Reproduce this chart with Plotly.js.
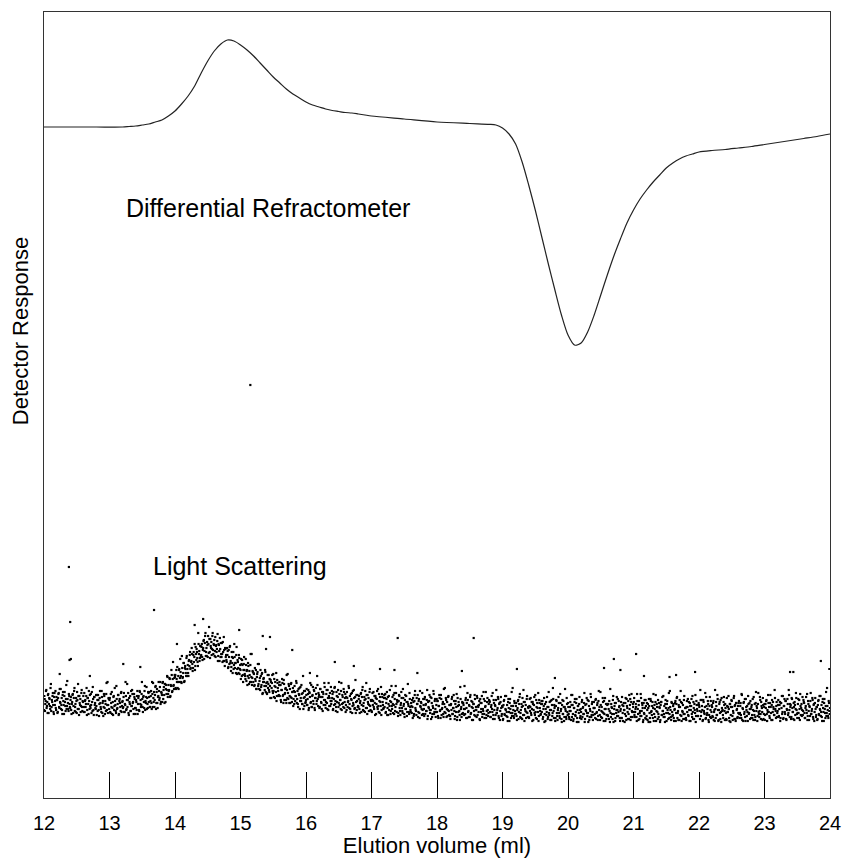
<!DOCTYPE html>
<html>
<head>
<meta charset="utf-8">
<script src="https://cdn.plot.ly/plotly-3.0.1.min.js"></script>
<style>
  html, body { margin: 0; padding: 0; background: #fff; }
  #chart { width: 844px; height: 858px; }
</style>
</head>
<body>
<div id="chart"></div>
<script>
// Differential refractometer trace (elution volume in ml, response in arbitrary units)
const drVolume = [12.0, 12.4, 12.8, 13.2, 13.3, 13.4, 13.5, 13.6, 13.7, 13.8, 13.9, 14.0, 14.1, 14.2, 14.3, 14.4,
  14.5, 14.6, 14.7, 14.8, 14.9, 15.0, 15.1, 15.2, 15.3, 15.4, 15.5, 15.6, 15.7, 15.8, 15.9, 16.0, 16.1, 16.2,
  16.3, 16.4, 16.5, 16.6, 16.7, 16.8, 16.9, 17.0, 17.5, 18.0, 18.5, 18.8, 18.9, 19.0, 19.1, 19.2, 19.3, 19.4,
  19.5, 19.6, 19.7, 19.8, 19.9, 20.0, 20.1, 20.2, 20.3, 20.4, 20.5, 20.6, 20.7, 20.8, 20.9, 21.0, 21.1, 21.2,
  21.3, 21.4, 21.5, 21.6, 21.7, 21.8, 21.9, 22.0, 22.2, 22.4, 22.6, 22.8, 23.0, 23.2, 23.4, 23.6, 23.8, 24.0];
const drResponse = [671, 671, 671, 671, 671.5, 672, 673, 674, 676, 678, 682, 687, 694, 702, 712, 725,
  737, 747, 754, 758, 757, 753, 748, 742, 735, 728, 721, 715, 709, 704, 700, 696, 693, 691,
  689, 687.5, 686.5, 685.5, 685, 684, 683, 682, 679, 676, 674.5, 673.7, 673, 670, 664, 654, 636, 613,
  588, 561, 534, 508, 483, 463, 453, 455, 466, 483, 503, 523, 542, 559, 575, 588, 599, 608,
  616, 623, 630, 635, 639, 642, 644, 646, 647.5, 648.5, 650, 651.5, 653.5, 655.5, 657.5, 659.5, 661.5, 664];

// Light scattering detector, even readings: every 0.01 ml from 12.00 to 24.00 ml
const lsStart = 12.0;
const lsStep = 0.01;
const lsResponse = [
  88, 99, 94, 107, 90, 96, 103, 85, 100, 92, 110, 87, 98, 102, 93, 84, 105, 97, 90, 101,
  98, 86, 104, 91, 109, 95, 89, 100, 84, 106, 93, 102, 96, 87, 113, 92, 99, 89, 104, 94,
  90, 101, 84, 96, 104, 92, 107, 87, 94, 100, 85, 98, 114, 89, 102, 93, 86, 105, 91, 97,
  102, 91, 86, 98, 94, 110, 88, 100, 84, 97, 103, 90, 93, 106, 87, 99, 83, 101, 95, 89,
  92, 103, 87, 98, 82, 100, 95, 89, 107, 85, 97, 91, 102, 84, 94, 104, 88, 116, 93, 99,
  98, 86, 104, 91, 84, 96, 101, 88, 110, 93, 85, 99, 90, 103, 83, 97, 95, 87, 106, 92,
  97, 91, 105, 86, 93, 102, 89, 114, 98, 85, 100, 94, 87, 107, 92, 104, 96, 84, 101, 90,
  90, 96, 102, 84, 100, 88, 107, 94, 91, 104, 99, 86, 102, 90, 112, 97, 101, 89, 94, 106,
  96, 106, 91, 102, 95, 116, 91, 100, 106, 98, 111, 89, 106, 95, 101, 116, 98, 111, 94, 106,
  103, 115, 99, 111, 95, 114, 109, 104, 122, 101, 113, 108, 119, 102, 112, 123, 107, 136, 113, 120,
  121, 110, 128, 116, 110, 122, 128, 116, 139, 122, 115, 130, 121, 135, 116, 130, 129, 122, 142, 129,
  125, 137, 132, 146, 130, 137, 144, 127, 143, 136, 154, 132, 144, 149, 140, 132, 154, 147, 140, 152,
  143, 154, 138, 150, 158, 147, 162, 142, 150, 156, 141, 154, 171, 146, 159, 150, 143, 162, 148, 154,
  158, 147, 141, 153, 149, 164, 142, 153, 137, 149, 155, 141, 144, 156, 137, 148, 132, 149, 143, 136,
  143, 130, 148, 134, 152, 137, 131, 141, 125, 146, 133, 141, 135, 125, 151, 129, 136, 125, 140, 129,
  128, 139, 122, 133, 116, 134, 128, 122, 139, 117, 128, 122, 132, 114, 123, 133, 116, 144, 120, 126,
  125, 112, 130, 117, 109, 121, 126, 112, 134, 117, 108, 122, 113, 125, 105, 119, 116, 108, 126, 112,
  105, 116, 110, 123, 106, 112, 118, 100, 115, 107, 124, 101, 112, 116, 106, 97, 118, 110, 102, 113,
  102, 113, 96, 108, 115, 103, 118, 98, 105, 110, 95, 108, 124, 99, 112, 102, 95, 114, 100, 106,
  110, 99, 94, 106, 102, 117, 95, 107, 91, 104, 110, 97, 100, 113, 94, 105, 89, 107, 101, 95,
  98, 109, 93, 104, 88, 106, 101, 95, 113, 91, 103, 97, 108, 90, 100, 110, 94, 122, 99, 105,
  103, 91, 109, 96, 89, 101, 106, 93, 115, 98, 90, 104, 95, 108, 88, 102, 100, 92, 111, 97,
  100, 88, 106, 93, 111, 97, 91, 102, 86, 108, 95, 104, 98, 89, 115, 94, 101, 91, 106, 96,
  104, 93, 88, 100, 96, 112, 90, 102, 86, 99, 105, 92, 95, 108, 89, 101, 85, 103, 97, 91,
  91, 102, 85, 97, 105, 93, 108, 88, 95, 101, 86, 99, 115, 90, 103, 94, 87, 106, 92, 98,
  87, 98, 93, 106, 89, 95, 102, 84, 99, 91, 109, 86, 97, 101, 92, 83, 104, 96, 89, 100,
  91, 104, 86, 99, 83, 101, 94, 88, 108, 84, 96, 92, 101, 85, 93, 105, 87, 112, 94, 98,
  97, 85, 103, 90, 83, 95, 100, 87, 109, 92, 84, 98, 89, 102, 82, 96, 94, 86, 105, 91,
  86, 92, 98, 80, 96, 84, 103, 90, 87, 100, 94, 81, 97, 85, 107, 91, 95, 83, 88, 99,
  89, 99, 84, 94, 87, 108, 82, 91, 97, 88, 101, 79, 95, 84, 90, 104, 86, 99, 81, 93,
  86, 97, 80, 92, 100, 88, 103, 83, 90, 96, 81, 94, 110, 85, 98, 89, 82, 101, 87, 93,
  82, 93, 88, 101, 84, 90, 97, 79, 94, 86, 104, 81, 92, 96, 87, 78, 99, 91, 84, 95,
  95, 89, 112, 84, 100, 90, 80, 98, 87, 93, 81, 103, 85, 91, 96, 78, 94, 83, 99, 88,
  88, 102, 83, 91, 93, 79, 99, 86, 95, 81, 89, 106, 84, 97, 92, 80, 87, 100, 82, 94,
  97, 86, 81, 93, 89, 105, 83, 95, 79, 92, 98, 85, 88, 101, 82, 94, 78, 96, 90, 84,
  91, 79, 97, 84, 102, 88, 82, 93, 77, 99, 86, 95, 89, 80, 106, 85, 92, 82, 97, 87,
  84, 95, 78, 90, 98, 86, 101, 81, 88, 94, 79, 92, 108, 83, 96, 87, 80, 99, 85, 91,
  81, 92, 87, 100, 83, 89, 96, 78, 93, 85, 103, 80, 91, 95, 86, 77, 98, 90, 83, 94,
  86, 97, 81, 92, 76, 94, 89, 83, 101, 79, 91, 85, 96, 78, 88, 98, 82, 110, 87, 93,
  92, 80, 98, 85, 78, 90, 95, 82, 104, 87, 79, 93, 84, 97, 77, 91, 89, 81, 100, 86,
  95, 84, 79, 91, 87, 103, 81, 93, 77, 90, 96, 83, 86, 99, 80, 92, 76, 94, 88, 82,
  86, 96, 81, 91, 84, 105, 79, 88, 94, 85, 98, 76, 92, 81, 87, 101, 83, 96, 78, 90,
  90, 84, 98, 79, 86, 95, 82, 107, 91, 78, 93, 87, 80, 100, 85, 97, 89, 77, 94, 83,
  93, 82, 89, 97, 76, 85, 94, 90, 79, 102, 84, 92, 77, 95, 88, 82, 99, 86, 91, 80,
  87, 96, 80, 93, 77, 95, 88, 84, 100, 78, 92, 86, 97, 79, 89, 99, 81, 104, 86, 94,
  86, 100, 81, 89, 91, 77, 97, 84, 93, 79, 87, 104, 82, 95, 90, 78, 85, 98, 80, 92,
  82, 88, 94, 76, 92, 80, 99, 86, 83, 96, 90, 77, 93, 81, 103, 87, 91, 79, 84, 95,
  90, 78, 96, 83, 101, 87, 81, 92, 76, 98, 85, 94, 88, 79, 105, 84, 91, 81, 96, 86,
  83, 94, 77, 89, 97, 85, 100, 80, 87, 93, 78, 91, 107, 82, 95, 86, 79, 98, 84, 90,
  80, 91, 86, 99, 82, 88, 95, 77, 92, 84, 102, 79, 90, 94, 85, 76, 97, 89, 82, 93,
  93, 87, 108, 82, 98, 88, 78, 96, 85, 91, 79, 101, 83, 89, 94, 76, 92, 81, 97, 86,
  91, 81, 97, 86, 77, 89, 96, 83, 103, 88, 78, 94, 85, 98, 76, 90, 88, 80, 101, 87,
  94, 85, 78, 92, 86, 102, 80, 94, 76, 91, 97, 82, 87, 100, 79, 93, 77, 95, 89, 81,
  85, 97, 80, 92, 83, 104, 78, 89, 95, 84, 99, 77, 91, 82, 86, 102, 84, 95, 79, 89,
  91, 83, 99, 78, 87, 94, 81, 106, 92, 77, 94, 86, 81, 101, 84, 96, 90, 78, 93, 84,
  94, 83, 90, 98, 77, 86, 95, 91, 80, 103, 85, 93, 78, 96, 89, 83, 100, 87, 92, 81,
  87, 98, 82, 93, 77, 95, 90, 84, 102, 80, 92, 86, 97, 79, 89, 99, 83, 108, 88, 94,
  93, 81, 99, 86, 79, 91, 96, 83, 105, 88, 80, 94, 85, 98, 78, 92, 90, 82, 101, 87,
  96, 85, 80, 92, 88, 104, 82, 94, 78, 91, 97, 84, 87, 100, 81, 93, 77, 95, 89, 83,
  91, 79, 97, 84, 102, 88, 82, 93, 77, 99, 86, 95, 89, 80, 106, 85, 92, 82, 97, 87,
  90
];

// Light scattering detector, odd readings: every 0.01 ml from 12.005 to 23.995 ml
const lsOddStart = 12.005;
const lsOddResponse = [
  102, 87, 97, 108, 92, 85, 104, 94, 99, 89, 114, 91, 96, 105, 86, 101, 93, 107, 88, 98,
  85, 100, 105, 90, 96, 109, 93, 88, 103, 97, 84, 106, 92, 99, 89, 117, 95, 87, 102, 91,
  98, 88, 94, 103, 85, 100, 110, 91, 86, 97, 106, 89, 102, 83, 95, 99, 92, 108, 87, 96,
  86, 105, 97, 91, 102, 83, 100, 94, 107, 89, 92, 104, 85, 96, 111, 88, 101, 93, 90, 103,
  83, 98, 103, 88, 94, 107, 91, 86, 101, 95, 82, 104, 90, 97, 87, 115, 93, 85, 100, 89,
  100, 85, 95, 106, 90, 83, 102, 92, 97, 87, 112, 89, 94, 103, 84, 99, 91, 105, 86, 96,
  90, 101, 86, 94, 116, 88, 98, 91, 105, 83, 96, 102, 87, 92, 108, 95, 89, 104, 99, 84,
  98, 88, 107, 94, 102, 87, 106, 98, 93, 116, 91, 101, 96, 107, 88, 95, 111, 100, 90, 105,
  101, 91, 97, 107, 89, 104, 115, 96, 91, 103, 112, 95, 109, 90, 102, 107, 100, 116, 96, 105,
  96, 116, 108, 103, 114, 96, 113, 108, 121, 104, 107, 120, 101, 113, 128, 106, 119, 112, 109, 123,
  123, 109, 119, 131, 116, 109, 129, 120, 126, 116, 142, 120, 125, 135, 117, 132, 125, 140, 122, 133,
  122, 138, 143, 129, 136, 150, 134, 130, 146, 141, 128, 151, 138, 146, 136, 165, 144, 137, 152, 142,
  151, 141, 148, 157, 139, 155, 165, 146, 142, 153, 162, 145, 159, 140, 152, 156, 149, 165, 144, 153,
  142, 161, 152, 146, 157, 137, 154, 147, 160, 141, 144, 155, 136, 146, 161, 137, 150, 141, 138, 150,
  147, 131, 141, 151, 135, 127, 146, 135, 140, 129, 154, 130, 135, 143, 124, 138, 130, 143, 124, 133,
  119, 134, 138, 123, 128, 141, 124, 119, 133, 127, 113, 135, 120, 127, 116, 144, 121, 113, 127, 116,
  124, 113, 119, 128, 109, 124, 134, 114, 109, 120, 128, 111, 124, 104, 116, 120, 112, 128, 106, 115,
  104, 123, 114, 108, 119, 100, 116, 110, 123, 105, 107, 119, 100, 111, 125, 102, 115, 107, 103, 116,
  113, 98, 108, 119, 102, 95, 114, 104, 109, 98, 123, 100, 105, 114, 95, 109, 101, 115, 96, 106,
  92, 107, 112, 97, 102, 115, 99, 94, 109, 103, 89, 111, 97, 104, 94, 122, 100, 92, 107, 96,
  103, 93, 99, 108, 90, 105, 115, 96, 91, 102, 111, 94, 107, 88, 100, 104, 97, 113, 92, 101,
  90, 109, 101, 95, 106, 87, 104, 98, 111, 93, 96, 108, 89, 100, 115, 92, 105, 97, 94, 107,
  104, 89, 99, 110, 94, 87, 106, 96, 101, 91, 116, 93, 98, 107, 88, 103, 95, 109, 90, 100,
  86, 101, 106, 91, 97, 110, 94, 89, 104, 98, 85, 107, 93, 100, 90, 118, 96, 88, 103, 92,
  99, 89, 95, 104, 86, 101, 111, 92, 87, 98, 107, 90, 103, 84, 96, 100, 93, 109, 88, 97,
  86, 105, 97, 91, 102, 83, 100, 94, 107, 89, 92, 104, 85, 96, 111, 88, 101, 93, 90, 103,
  100, 85, 95, 106, 90, 83, 102, 92, 97, 87, 112, 89, 94, 103, 84, 99, 91, 105, 86, 96,
  82, 97, 102, 87, 93, 106, 90, 85, 100, 94, 81, 103, 89, 96, 86, 114, 92, 84, 99, 88,
  95, 85, 91, 100, 82, 97, 107, 88, 83, 94, 103, 86, 99, 80, 92, 96, 89, 105, 84, 93,
  82, 101, 93, 87, 98, 79, 96, 90, 103, 85, 88, 100, 81, 92, 107, 84, 97, 89, 86, 99,
  97, 82, 92, 103, 87, 80, 99, 89, 94, 84, 109, 86, 91, 100, 81, 96, 88, 102, 83, 93,
  79, 94, 99, 84, 90, 103, 87, 82, 97, 91, 78, 100, 86, 93, 83, 111, 89, 81, 96, 85,
  93, 83, 89, 98, 80, 95, 105, 86, 81, 92, 101, 84, 97, 78, 90, 94, 87, 103, 82, 91,
  81, 100, 92, 86, 97, 78, 95, 89, 102, 84, 87, 99, 80, 91, 106, 83, 96, 88, 85, 98,
  96, 81, 91, 102, 86, 79, 98, 88, 93, 83, 108, 85, 90, 99, 80, 95, 87, 101, 82, 92,
  78, 93, 98, 83, 89, 102, 86, 81, 96, 90, 77, 99, 85, 92, 82, 110, 88, 80, 95, 84,
  92, 82, 88, 97, 79, 94, 104, 85, 80, 91, 100, 83, 96, 77, 89, 93, 86, 102, 81, 90,
  80, 99, 91, 85, 96, 77, 94, 88, 101, 83, 86, 98, 79, 90, 105, 82, 95, 87, 84, 97,
  94, 79, 89, 100, 84, 77, 96, 86, 91, 81, 106, 83, 88, 97, 78, 93, 85, 99, 80, 90,
  77, 92, 97, 82, 88, 101, 85, 80, 95, 89, 76, 98, 84, 91, 81, 109, 87, 79, 94, 83,
  91, 81, 87, 96, 78, 93, 103, 84, 79, 90, 99, 82, 95, 76, 88, 92, 85, 101, 80, 89,
  79, 98, 90, 84, 95, 76, 93, 87, 100, 82, 85, 97, 78, 89, 104, 81, 94, 86, 83, 96,
  90, 80, 99, 85, 93, 78, 97, 88, 83, 106, 81, 91, 86, 96, 77, 84, 100, 89, 79, 94,
  83, 94, 79, 87, 109, 81, 91, 84, 98, 76, 89, 95, 80, 85, 101, 88, 82, 97, 92, 77,
  89, 80, 101, 85, 92, 88, 76, 95, 82, 99, 90, 79, 84, 103, 93, 78, 96, 87, 81, 91,
  96, 83, 86, 94, 81, 104, 89, 78, 97, 85, 82, 100, 87, 93, 76, 95, 84, 90, 98, 79,
  95, 78, 90, 99, 85, 76, 97, 87, 92, 80, 104, 84, 89, 96, 77, 94, 86, 98, 81, 91,
  76, 93, 96, 83, 87, 102, 84, 81, 94, 90, 77, 97, 85, 90, 80, 107, 88, 78, 95, 82,
  92, 80, 88, 95, 77, 94, 101, 85, 78, 91, 98, 83, 96, 77, 87, 93, 84, 102, 79, 90,
  78, 97, 91, 83, 96, 77, 92, 88, 99, 81, 86, 96, 79, 88, 103, 82, 93, 87, 82, 95,
  91, 79, 98, 86, 92, 77, 98, 87, 84, 105, 80, 92, 85, 97, 78, 83, 101, 88, 80, 93,
  82, 95, 78, 88, 108, 80, 92, 83, 99, 77, 88, 96, 79, 86, 100, 87, 83, 96, 93, 78,
  90, 79, 100, 86, 91, 89, 77, 94, 83, 98, 91, 78, 85, 102, 92, 79, 95, 88, 80, 92,
  95, 84, 85, 95, 80, 103, 90, 77, 96, 86, 81, 99, 88, 92, 77, 94, 85, 89, 97, 80,
  93, 80, 88, 101, 83, 78, 95, 87, 90, 82, 105, 84, 87, 98, 79, 92, 86, 100, 79, 91,
  78, 94, 97, 84, 88, 103, 86, 82, 95, 91, 78, 98, 86, 91, 83, 108, 89, 80, 96, 85,
  93, 81, 89, 96, 80, 95, 102, 86, 79, 92, 99, 84, 97, 78, 88, 94, 85, 103, 81, 91,
  79, 100, 90, 86, 95, 78, 93, 89, 100, 84, 85, 99, 80, 89, 104, 83, 94, 88, 83, 98,
  95, 80, 90, 101, 85, 78, 97, 87, 92, 82, 105, 84, 89, 98, 79, 94, 86, 100, 81, 91,
  78, 93, 98, 83, 89, 102, 86, 81, 96, 90, 77, 99, 85, 92, 82, 110, 88, 80, 95, 84
];

// Stray light-scattering readings (spikes) recorded off the regular grid
const lsSpikeVolume = [12.24, 12.38, 12.39, 12.40, 12.41, 12.70, 13.21, 13.47, 13.68, 14.03, 14.30, 14.43,
  14.98, 15.15, 15.34, 15.39, 15.45, 15.79, 16.06, 16.44, 16.73, 17.13, 17.35, 17.40, 17.70, 18.38,
  18.56, 19.22, 19.80, 20.55, 20.70, 20.80, 21.04, 21.16, 21.55, 21.65, 21.94, 23.39, 23.44, 23.86, 23.99];
const lsSpikeResponse = [124, 231, 138, 176, 139, 122, 134, 131, 188, 154, 173, 179,
  168, 413, 162, 149, 161, 148, 125, 136, 132, 129, 128, 160, 125, 127,
  160, 129, 120, 130, 139, 128, 144, 122, 121, 123, 126, 126, 126, 137, 129];

const xTickVals = [12, 13, 14, 15, 16, 17, 18, 19, 20, 21, 22, 23, 24];
const xTickText = ['12', '13', '14', '15', '16', '17', '18', '19', '20', '21', '22', '23', '24'];

const lsVolume = lsResponse.map((_, i) => +(lsStart + i * lsStep).toFixed(3));
const lsOddVolume = lsOddResponse.map((_, i) => +(lsOddStart + i * lsStep).toFixed(3));

const FONT = 'Liberation Sans, Arial, Helvetica, sans-serif';

const traces = [
  {
    x: drVolume, y: drResponse, type: 'scatter', mode: 'lines',
    line: { color: '#222', width: 1.2, shape: 'spline', smoothing: 0.8 },
    hoverinfo: 'x+y', name: 'Differential Refractometer'
  },
  {
    x: lsVolume.concat(lsOddVolume, lsSpikeVolume),
    y: lsResponse.concat(lsOddResponse, lsSpikeResponse),
    type: 'scatter', mode: 'markers',
    marker: { color: '#000', size: 2.2, symbol: 'square', line: { width: 0 } },
    hoverinfo: 'x+y', name: 'Light Scattering'
  }
];

const layout = {
  width: 844, height: 858,
  margin: { l: 44, r: 14, t: 12, b: 60, pad: 0 },
  paper_bgcolor: '#fff', plot_bgcolor: '#fff',
  showlegend: false,
  font: { family: FONT, color: '#000', size: 20 },
  xaxis: {
    range: [12, 24], tickmode: 'array', tickvals: xTickVals, ticktext: xTickText,
    ticks: 'inside', ticklen: 26, tickwidth: 1, tickcolor: '#000',
    showline: true, mirror: true, linecolor: '#333', linewidth: 1,
    showgrid: false, zeroline: false,
    ticklabelstandoff: 7,
    tickfont: { family: FONT, size: 20, color: '#000' },
    title: { text: 'Elution volume (ml)', font: { family: FONT, size: 22, color: '#000' }, standoff: 0 }
  },
  yaxis: {
    range: [0, 786], showticklabels: false, ticks: '',
    showline: true, mirror: true, linecolor: '#333', linewidth: 1,
    showgrid: false, zeroline: false
  },
  annotations: [
    {
      text: 'Differential Refractometer', x: 15.42, y: 590, xref: 'x', yref: 'y',
      xanchor: 'center', yanchor: 'middle',
      showarrow: false, font: { family: FONT, size: 25, color: '#000' }
    },
    {
      text: 'Light Scattering', x: 14.99, y: 232, xref: 'x', yref: 'y',
      xanchor: 'center', yanchor: 'middle',
      showarrow: false, font: { family: FONT, size: 25, color: '#000' }
    },
    {
      text: 'Detector Response', x: -0.0305, y: 0.594, xref: 'paper', yref: 'paper',
      xanchor: 'center', yanchor: 'middle',
      textangle: -90, showarrow: false, font: { family: FONT, size: 22, color: '#000' }
    }
  ]
};

Plotly.newPlot('chart', traces, layout, { displayModeBar: false, staticPlot: true });
</script>
</body>
</html>
